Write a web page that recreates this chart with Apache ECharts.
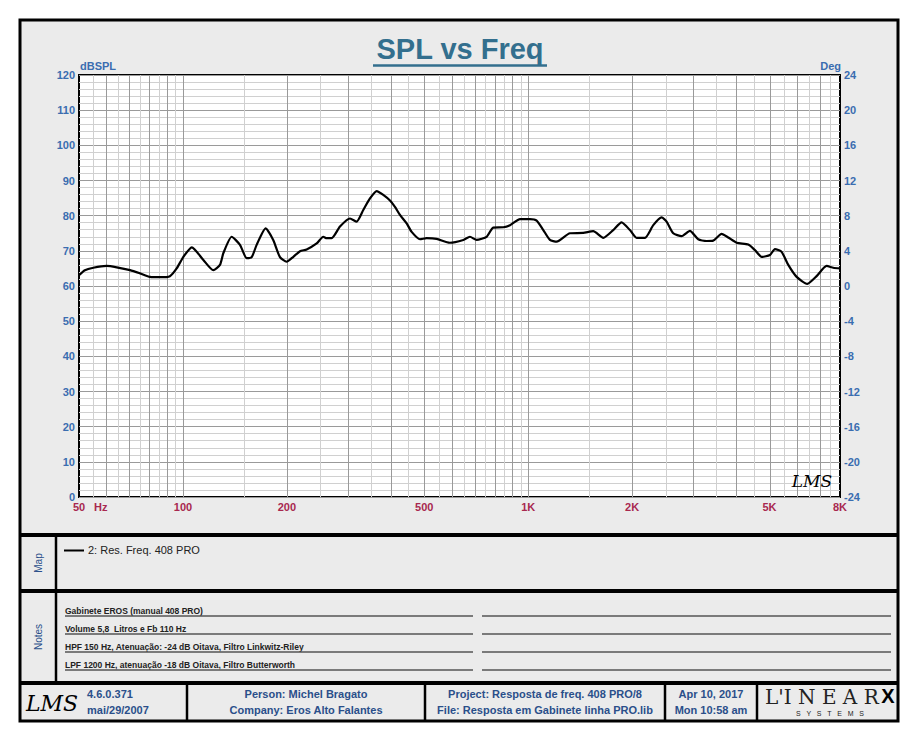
<!DOCTYPE html>
<html>
<head>
<meta charset="utf-8">
<script src="https://cdn.jsdelivr.net/npm/echarts@6/dist/echarts.min.js"></script>
<style>
html,body{margin:0;padding:0;background:#fff;}
#chart{width:903px;height:729px;}
</style>
</head>
<body>
<div id="chart"></div>
<script>
// ---- data ----
const freqs = [50,52,55,60.1,64.3,70.3,75.1,80.3,85.8,91.7,95.9,100.3,106.1,114.6,122.4,128,130.9,138.4,146.3,153,158.2,163.5,173.6,182.6,191,199.7,208.8,218.3,228.2,244,255,260.8,269.7,285,304.7,318.5,332.9,348.1,364,380.4,397.8,411.2,425.2,444.6,459.7,485.8,508,543,593,649,678,709,758,792,847,886,947,1012,1058,1106,1156,1209,1321,1443,1543,1650,1763,1864,1971,2061,2179,2303,2435,2517,2631,2782,2940,3108,3287,3434,3632,3796,4015,4339,4537,4744,5014,5184,5420,5666,5991,6431,6846,7316,7647,8000];
const spl = [63.1,64.5,65.2,65.7,65.3,64.5,63.6,62.6,62.5,62.8,65.0,68.3,71.0,67.4,64.5,66.0,69.3,74.0,71.7,67.9,68.2,71.7,76.4,73.1,68.2,66.9,68.3,69.9,70.4,72.1,74.0,73.6,73.6,76.9,79.2,78.3,81.6,84.9,87.0,85.9,84.3,82.5,80.2,77.8,75.4,73.3,73.6,73.4,72.3,73.1,74.0,73.1,74.0,76.6,76.7,77.3,79.0,79.0,78.6,75.9,73.1,72.6,75.0,75.1,75.6,73.7,75.9,78.1,75.9,73.7,73.7,77.3,79.5,78.3,75.0,74.2,75.7,73.3,72.8,72.9,74.8,73.8,72.3,71.8,70.2,68.3,68.8,70.5,69.7,66.0,62.6,60.6,62.8,65.7,65.2,65.0];
const xTickValues = [50,100,200,500,1000,2000,5000,8000];
const xTickLabels = ['50','100','200','500','1K','2K','5K','8K'];
const gridMajorFreqs = [60,70,80,90,100,200,300,400,500,600,700,800,900,1000,2000,3000,4000,5000,6000,7000];
const gridMinorFreqs = [55,65,75,85,95,150,250,350,450,550,650,750,850,950,1500,2500,3500,4500,5500,6500,7500];
const noteLines = ['Gabinete EROS (manual 408 PRO)','Volume 5,8  Litros e Fb 110 Hz','HPF 150 Hz, Atenuação: -24 dB Oitava, Filtro Linkwitz-Riley','LPF 1200 Hz, atenuação -18 dB Oitava, Filtro Butterworth'];
const legendName = '2: Res. Freq. 408 PRO';

// ---- styling ----
const FONT = '"Liberation Sans Narrow","Arial Narrow","Liberation Sans",Arial,sans-serif';
const BLUE = '#3a6db0';
const DKBLUE = '#2a4f8a';
const RED = '#a8284f';

const chart = echarts.init(document.getElementById('chart'), null, {renderer:'svg'});

function vLines(list, color){
  return {
    type:'custom', coordinateSystem:'cartesian2d', silent:true, z:2,
    data: list.map(f=>[f,0]),
    renderItem:(params, api)=>{
      const p0 = api.coord([api.value(0), 0]);
      const p1 = api.coord([api.value(0), 120]);
      const x = Math.round(p0[0]) + 0.5;
      return {type:'line', shape:{x1:x,y1:p1[1],x2:x,y2:p0[1]}, style:{stroke:color, lineWidth:1}};
    }
  };
}

const graphics = [
  {type:'rect', shape:{x:20,y:20,width:878,height:701}, style:{fill:'#ebebeb', stroke:'#000', lineWidth:3}, z:-10},
  {type:'line', shape:{x1:20,y1:535,x2:898,y2:535}, style:{stroke:'#000', lineWidth:4}},
  {type:'line', shape:{x1:20,y1:591,x2:898,y2:591}, style:{stroke:'#000', lineWidth:4}},
  {type:'line', shape:{x1:20,y1:683,x2:898,y2:683}, style:{stroke:'#000', lineWidth:4}},
  {type:'line', shape:{x1:56,y1:535,x2:56,y2:683}, style:{stroke:'#000', lineWidth:2.5}},
  {type:'line', shape:{x1:187,y1:683,x2:187,y2:721}, style:{stroke:'#000', lineWidth:2.5}},
  {type:'line', shape:{x1:425,y1:683,x2:425,y2:721}, style:{stroke:'#000', lineWidth:2.5}},
  {type:'line', shape:{x1:665,y1:683,x2:665,y2:721}, style:{stroke:'#000', lineWidth:2.5}},
  {type:'line', shape:{x1:757,y1:683,x2:757,y2:721}, style:{stroke:'#000', lineWidth:2.5}},
  // title
  {type:'text', x:460, y:49, style:{text:'SPL vs Freq', fill:'#336f8e', font:'bold 29px "Liberation Sans",Arial,sans-serif', align:'center', verticalAlign:'middle'}},
  {type:'line', shape:{x1:373,y1:65.5,x2:547,y2:65.5}, style:{stroke:'#336f8e', lineWidth:2.5}},
  // axis names
  {type:'text', x:80, y:66, style:{text:'dBSPL', fill:BLUE, font:'bold 11px '+FONT, align:'left', verticalAlign:'middle'}},
  {type:'text', x:841, y:66, style:{text:'Deg', fill:BLUE, font:'bold 11px '+FONT, align:'right', verticalAlign:'middle'}},
  {type:'text', x:94, y:507, style:{text:'Hz', fill:RED, font:'bold 11px '+FONT, align:'left', verticalAlign:'middle'}},
  // LMS signature in plot
  {type:'text', x:812, y:481, style:{text:'LMS', fill:'#000', font:'italic 17px "DejaVu Serif",serif', align:'center', verticalAlign:'middle'}, z:20},
  // Map row
  {type:'text', x:38, y:563, rotation:Math.PI/2, style:{text:'Map', fill:DKBLUE, font:'10px "Liberation Sans",Arial,sans-serif', align:'center', verticalAlign:'middle'}},
  {type:'line', shape:{x1:64,y1:550.5,x2:84,y2:550.5}, style:{stroke:'#000', lineWidth:2}},
  {type:'text', x:88, y:550, style:{text:legendName, fill:'#222', font:'11px "Liberation Sans",Arial,sans-serif', align:'left', verticalAlign:'middle'}},
  // Notes row
  {type:'text', x:38, y:637, rotation:Math.PI/2, style:{text:'Notes', fill:DKBLUE, font:'10px "Liberation Sans",Arial,sans-serif', align:'center', verticalAlign:'middle'}},
  // footer
  {type:'text', x:52, y:703, style:{text:'LMS', fill:'#000', font:'italic 22px "DejaVu Serif",serif', align:'center', verticalAlign:'middle'}},
  {type:'text', x:87, y:694, style:{text:'4.6.0.371', fill:DKBLUE, font:'bold 11px '+FONT, align:'left', verticalAlign:'middle'}},
  {type:'text', x:87, y:710, style:{text:'mai/29/2007', fill:DKBLUE, font:'bold 11px '+FONT, align:'left', verticalAlign:'middle'}},
  {type:'text', x:306, y:694, style:{text:'Person: Michel Bragato', fill:DKBLUE, font:'bold 11px '+FONT, align:'center', verticalAlign:'middle'}},
  {type:'text', x:306, y:710, style:{text:'Company: Eros Alto Falantes', fill:DKBLUE, font:'bold 11px '+FONT, align:'center', verticalAlign:'middle'}},
  {type:'text', x:545, y:694, style:{text:'Project: Resposta de freq. 408 PRO/8', fill:DKBLUE, font:'bold 11px '+FONT, align:'center', verticalAlign:'middle'}},
  {type:'text', x:545, y:710, style:{text:'File: Resposta em Gabinete linha PRO.lib', fill:DKBLUE, font:'bold 11px '+FONT, align:'center', verticalAlign:'middle'}},
  {type:'text', x:711, y:694, style:{text:'Apr 10, 2017', fill:DKBLUE, font:'bold 11px '+FONT, align:'center', verticalAlign:'middle'}},
  {type:'text', x:711, y:710, style:{text:'Mon 10:58 am', fill:DKBLUE, font:'bold 11px '+FONT, align:'center', verticalAlign:'middle'}},
  {type:'text', x:765, y:697, style:{text:"L'I N E A R", fill:'#222', font:'20px "DejaVu Serif",serif', align:'left', verticalAlign:'middle'}},
  {type:'text', x:888, y:696, style:{text:'X', fill:'#000', font:'bold 20px "Liberation Sans",Arial,sans-serif', align:'center', verticalAlign:'middle'}},
  {type:'text', x:830, y:713, style:{text:'S   Y   S   T   E   M   S', fill:'#222', font:'7px "Liberation Sans",Arial,sans-serif', align:'center', verticalAlign:'middle'}}
];
noteLines.forEach((t,i)=>{
  const y = 611 + i*18;
  graphics.push({type:'text', x:65, y:y, style:{text:t, fill:'#222', font:'bold 8.5px "Liberation Sans",Arial,sans-serif', align:'left', verticalAlign:'middle'}});
  graphics.push({type:'line', shape:{x1:65,y1:y+5,x2:473,y2:y+5}, style:{stroke:'#555', lineWidth:1.5}});
  graphics.push({type:'line', shape:{x1:482,y1:y+5,x2:891,y2:y+5}, style:{stroke:'#555', lineWidth:1.5}});
});

const option = {
  animation:false,
  backgroundColor:'#ffffff',
  grid:{left:79, top:75, width:761, height:422, show:true, backgroundColor:'#fff', borderColor:'#000', borderWidth:2, containLabel:false, outerBoundsMode:'none'},
  xAxis:{type:'log', logBase:10, min:50, max:8000, axisLabel:{show:false}, axisTick:{show:false}, axisLine:{show:false}, splitLine:{show:false}},
  yAxis:[
    {type:'value', min:0, max:120, interval:10, position:'left',
     axisLabel:{color:BLUE, fontWeight:'bold', fontSize:11, fontFamily:FONT, margin:4},
     axisTick:{show:false}, axisLine:{show:false},
     splitLine:{show:true, lineStyle:{color:'#9a9a9a', width:1}},
     minorTick:{show:false, splitNumber:5},
     minorSplitLine:{show:true, lineStyle:{color:'#d0d0d0', width:1}}},
    {type:'value', min:-24, max:24, interval:4, position:'right',
     axisLabel:{color:BLUE, fontWeight:'bold', fontSize:11, fontFamily:FONT, margin:4},
     axisTick:{show:false}, axisLine:{show:false}, splitLine:{show:false}}
  ],
  series:[
    vLines(gridMinorFreqs, '#d0d0d0'),
    vLines(gridMajorFreqs, '#9a9a9a'),
    {
      type:'custom', coordinateSystem:'cartesian2d', silent:true, z:3,
      data: xTickValues.map((v,i)=>[v,0,i]),
      renderItem:(params, api)=>{
        const p = api.coord([api.value(0), 0]);
        return {type:'text', x:p[0], y:p[1]+10, style:{text:xTickLabels[api.value(2)], fill:RED, font:'bold 11px '+FONT, align:'center', verticalAlign:'middle'}};
      }
    },
    {
      type:'line', z:5, showSymbol:false, smooth:0.2, clip:true,
      data: freqs.map((f,i)=>[f, spl[i]]),
      lineStyle:{color:'#000', width:2.2}
    }
  ],
  graphic:{elements:graphics}
};
chart.setOption(option);
</script>
</body>
</html>
